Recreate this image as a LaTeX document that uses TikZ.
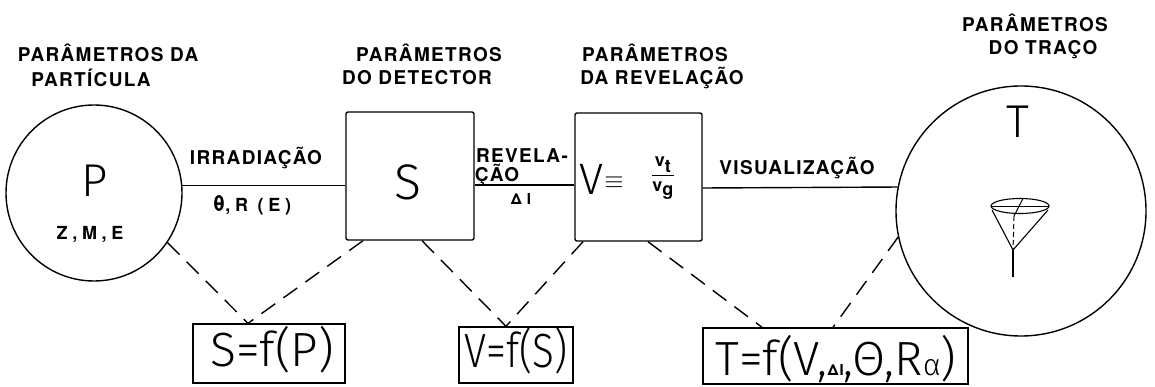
\documentclass[tikz,border=0pt]{standalone}
\usepackage{fontspec}
\usepackage{amsmath}
\setmainfont{TeX Gyre Heros}
\newfontfamily\capsfont[LetterSpace=7]{TeX Gyre Heros}
\newfontfamily\wideboldfont[LetterSpace=26]{TeX Gyre Heros}
\newfontfamily\thinfont{Fira Sans Light}
\newfontfamily\thincond[FakeStretch=0.84]{Fira Sans Light}

\tikzset{
  headtext/.style={font=\capsfont\bfseries\fontsize{19}{21}\selectfont, inner sep=0, anchor=base},
  smallbold/.style={font=\wideboldfont\bfseries\fontsize{18}{20}\selectfont, inner sep=0, anchor=base},
  bigletter/.style={font=\thinfont\fontsize{48}{50}\selectfont, inner sep=0, anchor=base},
  solidline/.style={line width=1.4pt},
  dashlink/.style={line width=1.4pt, dash pattern=on 17pt off 10pt},
  stagebox/.style={draw, line width=1.4pt, rounded corners=2pt, inner sep=0},
  fnbox/.style={draw, line width=1.4pt, inner sep=0},
  roundstage/.style={draw, circle, line width=1.4pt, inner sep=0},
}

\begin{document}
\begin{tikzpicture}[x=1pt, y=-1pt]
\useasboundingbox (0,0) rectangle (1155,387);

% stages of the chain
\node[roundstage, minimum size=176pt] (P) at (94,193) {};
\node[stagebox, minimum width=128pt, minimum height=128pt] (S) at (410,176) {};
\node[stagebox, minimum width=127pt, minimum height=128pt] (V) at (638.5,177) {};
\node[roundstage, minimum size=250pt] (T) at (1021,211) {};

% functional relations
\node[fnbox, minimum width=152pt, minimum height=59pt] (SP) at (269,353.5) {};
\node[fnbox, minimum width=114pt, minimum height=56pt] (VS) at (516,355) {};
\node[fnbox, minimum width=265pt, minimum height=56pt] (TF) at (835.5,356) {};

% solid links between stages
\draw[solidline] (P.5) -- (P.5 -| S.west);
\draw[solidline] ([yshift=-9pt]S.east) -- ([yshift=-9pt]S.east -| V.west);
\draw[solidline] ([yshift=-11pt]V.east) -- (T.169.4);

% dashed dependencies
\coordinate (SPtop) at ([xshift=-21pt]SP.north);
\coordinate (VStop) at ([xshift=-10pt]VS.north);
\draw[dashlink] (P.-34.4) -- (SPtop);
\draw[dashlink] ([xshift=-47pt]S.south) -- (SPtop);
\draw[dashlink] ([xshift=12pt]S.south) -- (VStop);
\draw[dashlink] ([xshift=-55.5pt]V.south) -- (VStop);
\draw[dashlink] ([xshift=9.5pt]V.south) -- ([xshift=-73.5pt]TF.north);
\draw[dashlink] (T.192.3) -- ([xshift=-2.5pt]TF.north);

% headings
\node[headtext] (h1a) at (108,62) {PARÂMETROS DA};
\node[headtext] (h1b) at (91,87) {PARTÍCULA};
\node[headtext] (h2a) at (429,62) {PARÂMETROS};
\node[headtext] (h2b) at (417,85) {DO DETECTOR};
\node[headtext] (h3a) at (655,62) {PARÂMETROS};
\node[headtext] (h3b) at (662,85) {DA REVELAÇÃO};
\node[headtext] (h4a) at (1035,32) {PARÂMETROS};
\node[headtext] (h4b) at (1043,55) {DO TRAÇO};

% link labels
\node[headtext] (irr) at (256,165) {IRRADIAÇÃO};
\node[smallbold] (thr) at (252,212) {{\fontsize{22}{22}\selectfont θ},R (E)};
\node[headtext] (rev1) at (522,163) {REVELA-};
\node[headtext] (rev2) at (497,182) {ÇÃO};
\node[smallbold, font=\capsfont\bfseries\fontsize{15}{17}\selectfont] (dI) at (521,205) {Δ I};
\node[headtext] (vis) at (797,175) {VISUALIZAÇÃO};

% contents of the stages
\node[bigletter, font=\thinfont\fontsize{46}{50}\selectfont] (Plbl) at (95,197) {P};
\node[smallbold] (zme) at (90,240) {Z,M,E};
\node[bigletter, font=\thinfont\fontsize{50}{52}\selectfont] (Slbl) at (408,200) {S};
\node[bigletter, font=\thinfont\fontsize{44}{48}\selectfont] (Vlbl) at (592,195) {V};
\node[inner sep=0, font=\fontsize{40}{44}\selectfont] (eqv) at (614,183) {$\equiv$};
\node[inner sep=0, font=\bfseries\fontsize{18}{20}\selectfont] (frac) at (663,178)
  {$\dfrac{\mbox{v}_{\mbox{\bfseries t}}}{\mbox{v}_{\mbox{\bfseries g}}}$};
\node[bigletter, font=\thinfont\fontsize{46}{50}\selectfont] (Tlbl) at (1018,138) {T};

% trace cone inside T
\draw[line width=1.1pt] (1020,206) ellipse [x radius=29pt, y radius=7.5pt];
\draw[line width=1pt] (991,207) -- (1049,207);
\draw[line width=1pt] (1023,198.5) -- (1014,216);
\draw[line width=1pt, dash pattern=on 5pt off 3pt] (1014,216) -- (1013,250);
\draw[line width=1.1pt] (992,210) -- (1013,250) -- (1048,210);
\draw[line width=1.8pt] (1013,250) -- (1013,277);

% texts of the relations
\node[bigletter] (SPt) at (272,366) {S=f(P)};
\node[bigletter, font=\thincond\fontsize{48}{50}\selectfont] (VSt) at (516,367) {V=f(S)};
\node[bigletter] (TFt) at (836,375) {T=f(V,{\capsfont\bfseries\fontsize{15}{15}\selectfont ΔI},Θ,R{\fontsize{30}{30}\selectfont α})};
\end{tikzpicture}
\end{document}
